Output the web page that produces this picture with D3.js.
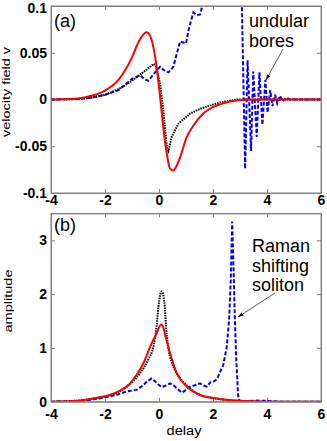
<!DOCTYPE html>
<html>
<head>
<meta charset="utf-8">
<script src="https://cdn.jsdelivr.net/npm/d3@7"></script>
<style>
  body { margin: 0; background: #fff; }
  svg { display: block; font-family: "Liberation Sans", Arial, sans-serif; }
  .tick text { font-weight: bold; font-size: 14px; fill: #000; }
  .axis path, .axis line { stroke: #808080; }
</style>
</head>
<body>
<svg width="327" height="441"></svg>
<script>
// ---- data ----
var xTicks = [-4, -2, 0, 2, 4, 6];
var xTickLabels = ["-4", "-2", "0", "2", "4", "6"];
var topYTicks = [-0.1, -0.05, 0, 0.05, 0.1];
var topYTickLabels = ["-0.1", "-0.05", "0", "0.05", "0.1"];
var botYTicks = [0, 1, 2, 3];
var botYTickLabels = ["0", "1", "2", "3"];

// (a) velocity field v
var topRedDelay = [-4, -3.5, -3, -2.5, -2, -1.5, -1, -0.75, -0.46, -0.33, -0.2, -0.09, 0.04, 0.16, 0.29, 0.41, 0.53, 0.65, 0.78, 1.03, 1.27, 1.64, 2.01, 2.38, 2.88, 3.5, 6];
var topRedV     = [0, 0.0003, 0.001, 0.004, 0.0096, 0.021, 0.045, 0.062, 0.072, 0.068, 0.055, 0.035, 0.003, -0.030, -0.058, -0.074, -0.076, -0.071, -0.062, -0.040, -0.028, -0.015, -0.008, -0.004, -0.001, 0, 0];

var topBlackDelay = [-4, -3, -2.5, -2, -1.5, -1, -0.5, -0.2, -0.12, 0.04, 0.16, 0.29, 0.35, 0.47, 0.66, 0.72, 1.15, 1.52, 2.26, 2.9, 6];
var topBlackV     = [0, 0.0005, 0.002, 0.005, 0.011, 0.020, 0.031, 0.038, 0.036, 0.017, -0.012, -0.051, -0.055, -0.040, -0.029, -0.026, -0.015, -0.010, -0.003, 0, 0];

var topBlueDelay = [-4, -3, -2.5, -2, -1.5, -1, -0.7, -0.55, -0.4, -0.2, 0.04, 0.2, 0.35, 0.53, 0.78, 0.9, 1.0, 1.1, 1.27, 1.4, 1.52, 1.64, 1.8, 3.0, 3.07, 3.19, 3.28, 3.41, 3.49, 3.62, 3.72, 3.83, 3.94, 4.02, 4.12, 4.2, 4.3, 4.38, 4.48, 4.58, 4.7, 4.85, 6];
var topBlueV     = [0, 0.0005, 0.002, 0.005, 0.010, 0.022, 0.026, 0.022, 0.020, 0.027, 0.035, 0.031, 0.029, 0.035, 0.062, 0.061, 0.060, 0.075, 0.093, 0.090, 0.091, 0.104, 0.13, 0.13, 0.10, -0.074, 0.042, -0.055, 0.030, -0.040, 0.029, -0.027, 0.021, -0.014, 0.010, -0.007, 0.005, -0.004, 0.004, -0.002, 0.002, 0, 0];

// (b) amplitude
var botRedDelay = [-4, -3, -2.43, -2, -1.81, -1.5, -1.07, -0.8, -0.58, -0.33, -0.09, 0.07, 0.12, 0.26, 0.41, 0.66, 1.03, 1.52, 2.14, 2.6, 3, 4, 6];
var botRedA     = [0, 0.02, 0.06, 0.10, 0.125, 0.19, 0.34, 0.52, 0.71, 1.02, 1.27, 1.43, 1.42, 1.18, 0.90, 0.53, 0.28, 0.125, 0.06, 0.03, 0.02, 0, 0];

var botBlackDelay = [-4, -3, -2.43, -2, -1.5, -1.07, -0.7, -0.4, -0.21, -0.09, -0.02, 0.1, 0.2, 0.26, 0.33, 0.41, 0.59, 0.8, 1.03, 1.5, 2.1, 2.7, 3, 4, 6];
var botBlackA     = [0, 0.02, 0.06, 0.10, 0.18, 0.33, 0.53, 0.78, 1.02, 1.39, 1.77, 2.05, 1.85, 1.40, 1.05, 0.84, 0.59, 0.42, 0.30, 0.13, 0.06, 0.02, 0.01, 0, 0];

var botBlueDelay = [-4, -2.9, -2.5, -2.12, -1.81, -1.5, -1.2, -0.83, -0.6, -0.46, -0.28, -0.15, -0.02, 0.1, 0.25, 0.41, 0.55, 0.66, 0.84, 0.95, 1.09, 1.3, 1.52, 1.65, 1.77, 1.9, 2.01, 2.15, 2.26, 2.38, 2.51, 2.6, 2.66, 2.71, 2.76, 2.8, 2.86, 2.93, 2.97, 3.2, 3.6, 4.0, 4.3, 4.5, 6];
var botBlueA     = [0, 0.01, 0.04, 0.07, 0.10, 0.14, 0.19, 0.22, 0.30, 0.37, 0.43, 0.38, 0.32, 0.27, 0.30, 0.34, 0.30, 0.25, 0.17, 0.20, 0.27, 0.30, 0.34, 0.30, 0.28, 0.36, 0.37, 0.42, 0.55, 0.68, 1.02, 1.55, 2.3, 3.35, 2.5, 1.70, 0.80, 0.12, 0.02, 0.01, 0.02, 0.015, 0.005, 0, 0];

// ---- drawing ----
var svg = d3.select("svg");

var xScale = d3.scaleLinear().domain([-4, 6]).range([51, 321]);
var yTop = d3.scaleLinear().domain([-0.1, 0.1]).range([193, 6]);
var yBot = d3.scaleLinear().domain([0, 3.5]).range([401.7, 213.4]);

/** Frame, inward ticks on all four sides, tick labels **/
function draw_frame(name, yScale, yTicks, yLabels, xPad){
	var x0 = xScale.range()[0], x1 = xScale.range()[1];
	var y0 = yScale.range()[0], y1 = yScale.range()[1];
	var lbl = (arr, ticks) => (d) => arr[ticks.indexOf(d)];

	svg.append("g").attr("class", "axis")
		.attr("transform", "translate(0," + y0 + ")")
		.call(d3.axisBottom(xScale).tickValues(xTicks).tickFormat(lbl(xTickLabels, xTicks))
			.tickSizeInner(-4).tickSizeOuter(0).tickPadding(xPad));
	svg.append("g").attr("class", "axis")
		.attr("transform", "translate(0," + y1 + ")")
		.call(d3.axisTop(xScale).tickValues(xTicks).tickFormat("").tickSizeInner(-4).tickSizeOuter(0));
	var left = svg.append("g").attr("class", "axis y")
		.attr("transform", "translate(" + x0 + ",0)")
		.call(d3.axisLeft(yScale).tickValues(yTicks).tickFormat(lbl(yLabels, yTicks))
			.tickSizeInner(-4).tickSizeOuter(0).tickPadding(4));
	svg.append("g").attr("class", "axis")
		.attr("transform", "translate(" + x1 + ",0)")
		.call(d3.axisRight(yScale).tickValues(yTicks).tickFormat("").tickSizeInner(-4).tickSizeOuter(0));

	svg.append("clipPath").attr("id", "clip-" + name)
		.append("rect")
		.attr("x", x0).attr("y", y1)
		.attr("width", x1 - x0).attr("height", y0 - y1);
	return left;
}

/** One data series as a path **/
function draw_series(name, yScale, xs, ys, color, dash, curve){
	var pts = xs.map((d, i) => [d, ys[i]]);
	var line = d3.line()
		.x((d) => xScale(d[0]))
		.y((d) => yScale(d[1]))
		.curve(curve);
	svg.append("path")
		.datum(pts)
		.attr("clip-path", "url(#clip-" + name + ")")
		.attr("fill", "none")
		.attr("stroke", color)
		.attr("stroke-width", 2)
		.attr("stroke-dasharray", dash)
		.attr("d", line);
}

var leftA = draw_frame("a", yTop, topYTicks, topYTickLabels, 2);
draw_frame("b", yBot, botYTicks, botYTickLabels, 7);

// the top label "0.1" sits at the very edge of the page: nudge it down a bit
leftA.selectAll(".tick text").filter((d) => d === 0.1).attr("dy", "0.45em");

draw_series("a", yTop, topBlueDelay, topBlueV, "#0000ff", "4,2", d3.curveLinear);
draw_series("a", yTop, topBlackDelay, topBlackV, "#000", "1.5,1", d3.curveLinear);
draw_series("a", yTop, topRedDelay, topRedV, "#ff0000", null, d3.curveMonotoneX);

draw_series("b", yBot, botBlueDelay, botBlueA, "#0000ff", "4,2", d3.curveLinear);
draw_series("b", yBot, botBlackDelay, botBlackA, "#000", "1.5,1", d3.curveMonotoneX);
draw_series("b", yBot, botRedDelay, botRedA, "#ff0000", null, d3.curveMonotoneX);

// box outlines on top of the curves
[yTop, yBot].forEach(function(ys){
	svg.append("rect")
		.attr("x", 51).attr("y", ys.range()[1])
		.attr("width", 270).attr("height", ys.range()[0] - ys.range()[1])
		.attr("fill", "none").attr("stroke", "#808080");
});

// panel letters
svg.append("text").attr("x", 54).attr("y", 27).attr("font-size", 18).text("(a)");
svg.append("text").attr("x", 54).attr("y", 231).attr("font-size", 18).text("(b)");

// axis titles (the originals are stretched along their length)
svg.append("text")
	.attr("transform", "translate(9.5,92) rotate(-90)")
	.attr("text-anchor", "middle").attr("font-size", 11.5)
	.attr("textLength", 90).attr("lengthAdjust", "spacingAndGlyphs")
	.text("velocity field v");
svg.append("text")
	.attr("transform", "translate(11.5,301) rotate(-90)")
	.attr("text-anchor", "middle").attr("font-size", 11.5)
	.attr("textLength", 63).attr("lengthAdjust", "spacingAndGlyphs")
	.text("amplitude");
svg.append("text")
	.attr("x", 184).attr("y", 434.5)
	.attr("text-anchor", "middle").attr("font-size", 12)
	.attr("textLength", 35).attr("lengthAdjust", "spacingAndGlyphs")
	.text("delay");

// annotations with arrows
svg.append("defs").append("marker")
	.attr("id", "head").attr("viewBox", "0 0 10 10")
	.attr("refX", 10).attr("refY", 5)
	.attr("markerWidth", 7).attr("markerHeight", 7)
	.attr("orient", "auto")
	.append("path").attr("d", "M0,1.5L10,5L0,8.5Z").attr("fill", "#000");

function annotate(lines, tx, ty, ax0, ay0, ax1, ay1){
	var t = svg.append("text").attr("font-size", 18);
	lines.forEach(function(s, i){
		t.append("tspan").attr("x", tx).attr("y", ty + i * 19.5).text(s);
	});
	svg.append("line")
		.attr("x1", ax0).attr("y1", ay0).attr("x2", ax1).attr("y2", ay1)
		.attr("stroke", "#333").attr("stroke-width", 0.8)
		.attr("marker-end", "url(#head)");
}
annotate(["undular", "bores"], 249, 27, 283, 49, 266, 80);
annotate(["Raman", "shifting", "soliton"], 252, 252, 275, 293, 238, 317);
</script>
</body>
</html>
